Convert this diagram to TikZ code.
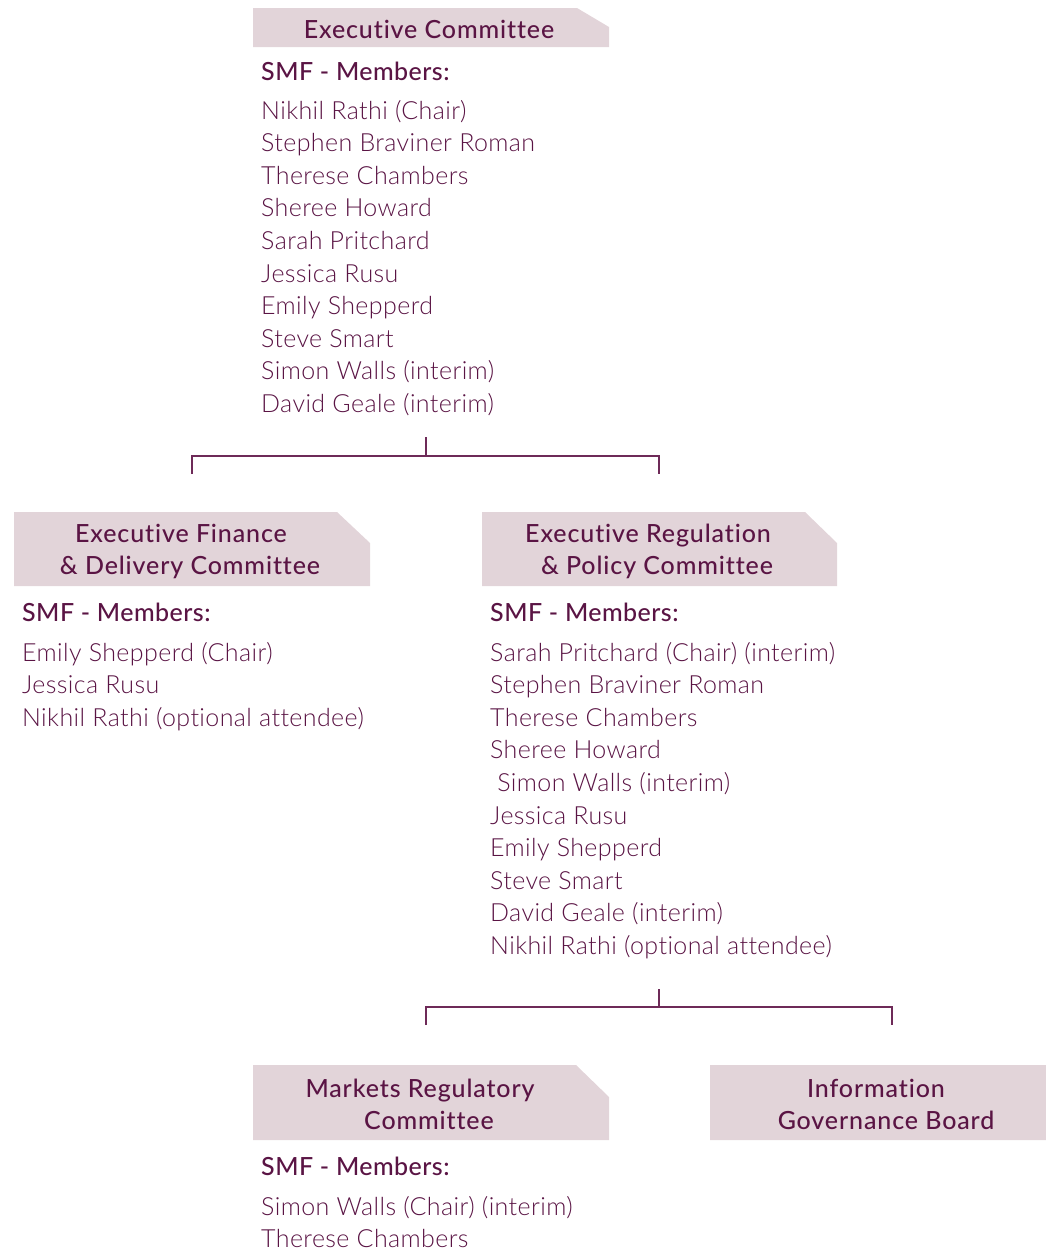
\documentclass[tikz,border=0pt]{standalone}
\usepackage{fontspec}
\setmainfont{Lato}
\newfontfamily\namefont[LetterSpace=1.6,RawFeature={-liga}]{Lato Light}
\newfontfamily\headfont[LetterSpace=3.5,RawFeature={-liga}]{Lato Medium}
\newfontfamily\smffont[LetterSpace=1.8,RawFeature={-liga}]{Lato Medium}
\definecolor{boxfill}{HTML}{E2D4D9}
\definecolor{ink}{HTML}{5A1444}
\definecolor{linec}{HTML}{6E2A58}
\tikzset{
  x=1pt,y=-1pt,
  head/.style={text=ink,font=\headfont\fontsize{25}{32}\selectfont,align=center,inner sep=0pt},
  smf/.style={text=ink,font=\smffont\fontsize{25}{32}\selectfont,anchor=base west,inner sep=0pt},
  member/.style={text=ink,font=\namefont\fontsize{25}{32}\selectfont,anchor=base west,inner sep=0pt},
  conn/.style={draw=linec,line width=1.2pt},
}
\newcommand{\cutbox}[6]{% x1,y1,x2,y2,cw,ch
  \fill[boxfill] (#1,#2) -- (#3-#5,#2) -- (#3,#2+#6) -- (#3,#4) -- (#1,#4) -- cycle;}
\begin{document}
\begin{tikzpicture}
\useasboundingbox (0,0) rectangle (1046,1250);
% boxes
\cutbox{253}{8}{609}{47}{32}{19}
\cutbox{14}{512}{370}{586}{33}{31}
\cutbox{482}{512}{837}{586}{32}{31}
\cutbox{253}{1065}{609}{1140}{33}{32}
\cutbox{710}{1065}{1078}{1140}{32}{32}
% headings
\node[head,anchor=base] (ech) at (429,38) {Executive Committee};
\node[head,anchor=base] (efh1) at (181,542) {Executive Finance};
\node[head,anchor=base] (efh2) at (190,574) {\& Delivery Committee};
\node[head,anchor=base] (erh1) at (648,542) {Executive Regulation};
\node[head,anchor=base] (erh2) at (657,574) {\& Policy Committee};
\node[head,anchor=base] (mrh1) at (420,1097) {Markets Regulatory};
\node[head,anchor=base] (mrh2) at (429,1129) {Committee};
\node[head,anchor=base] (igh1) at (876,1097) {Information};
\node[head,anchor=base] (igh2) at (886,1129) {Governance Board};
% SMF labels
\node[smf] (ecs) at (261,80) {SMF - Members:};
\node[smf] (efs) at (22,621) {SMF - Members:};
\node[smf] (ers) at (490,621) {SMF - Members:};
\node[smf] (mrs) at (261,1175) {SMF - Members:};
% members
\foreach \t [count=\i from 0] in {Nikhil Rathi (Chair),Stephen Braviner Roman,Therese Chambers,Sheree Howard,Sarah Pritchard,Jessica Rusu,Emily Shepperd,Steve Smart,Simon Walls (interim),David Geale (interim)}
  \node[member] (ec\i) at (261,119+32.6*\i) {\t};
\foreach \t [count=\i from 0] in {Emily Shepperd (Chair),Jessica Rusu,Nikhil Rathi (optional attendee)}
  \node[member] (ef\i) at (22,661+32.6*\i) {\t};
\foreach \t [count=\i from 0] in {Sarah Pritchard (Chair) (interim),Stephen Braviner Roman,Therese Chambers,Sheree Howard,\ Simon Walls (interim),Jessica Rusu,Emily Shepperd,Steve Smart,David Geale (interim),Nikhil Rathi (optional attendee)}
  \node[member] (er\i) at (490,661+32.6*\i) {\t};
\foreach \t [count=\i from 0] in {Simon Walls (Chair) (interim),Therese Chambers}
  \node[member] (mr\i) at (261,1215+32.6*\i) {\t};
% connectors
\coordinate (t0) at (426,437);
\coordinate (t1) at (192,474);
\coordinate (t2) at (659,474);
\draw[conn] (t0) -- (426,456);
\draw[conn] (t1) |- (t0 |- 0,456) -| (t2);
\coordinate (b0) at (659,989);
\coordinate (b1) at (426,1025);
\coordinate (b2) at (892,1025);
\draw[conn] (b0) -- (659,1007);
\draw[conn] (b1) |- (b0 |- 0,1007) -| (b2);
\end{tikzpicture}
\end{document}
